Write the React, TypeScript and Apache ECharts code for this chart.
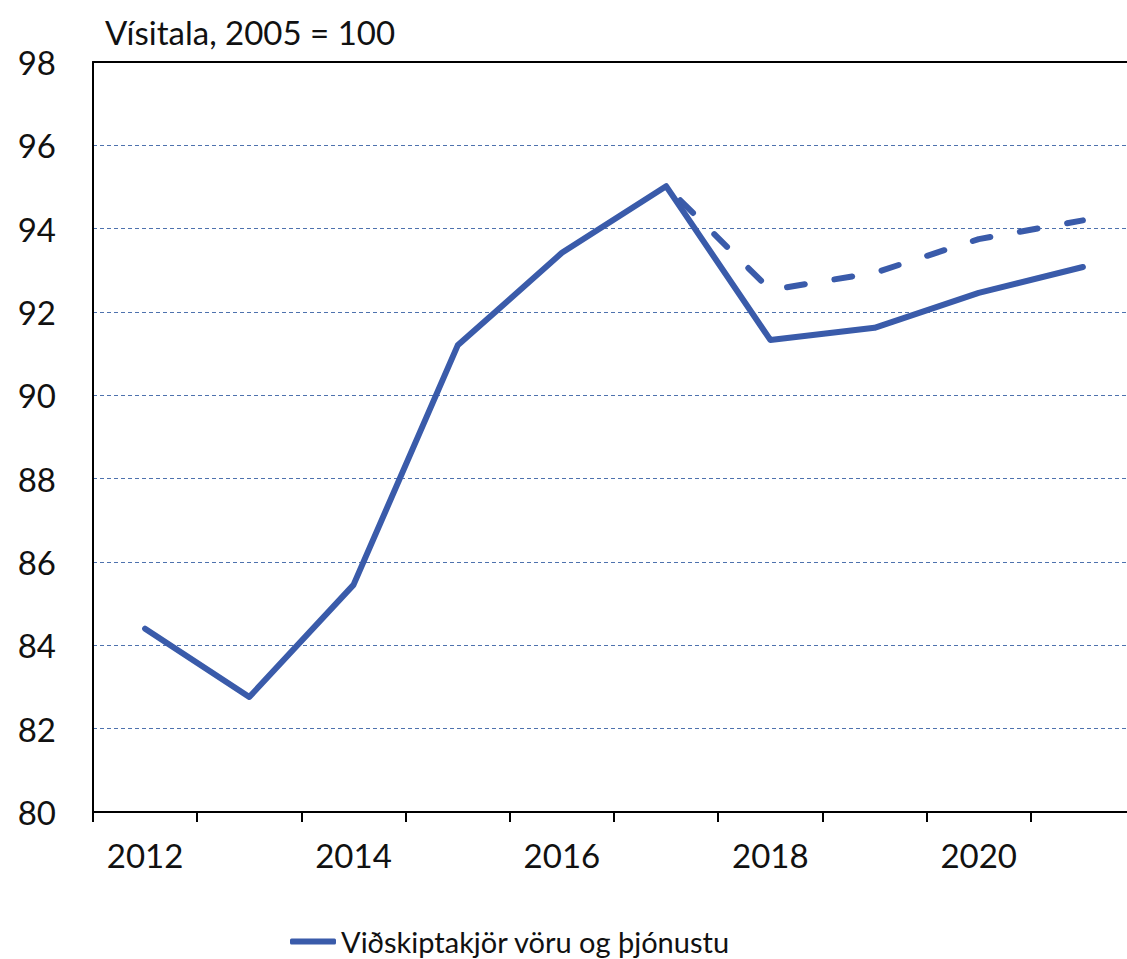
import React, { useEffect, useRef } from "react";
import * as echarts from "echarts";

const categories = ["2012", "2013", "2014", "2015", "2016", "2017", "2018", "2019", "2020", "2021"];
const termsOfTrade = [84.4, 82.76, 85.45, 91.2, 93.42, 95.02, 91.33, 91.62, 92.46, 93.08];
const forecast = [null, null, null, null, null, 95.02, 92.53, 92.94, 93.75, 94.2];
const seriesName = "Viðskiptakjör vöru og þjónustu";
const yTitle = "Vísitala, 2005 = 100";

const FONT = "Lato, 'Open Sans', sans-serif";
const BLUE = "#3A5BAA";

export default function App() {
  const ref = useRef<HTMLDivElement>(null);
  useEffect(() => {
    document.body.style.margin = "0";
    const chart = echarts.init(ref.current!, null, { renderer: "svg" });
    chart.setOption({
      animation: false,
      backgroundColor: "#fff",
      textStyle: { fontFamily: FONT },
      grid: { left: 93, top: 62, width: 1042, height: 750, containLabel: false },
      title: {
        text: yTitle,
        left: 100,
        top: 10,
        textStyle: { fontFamily: FONT, fontSize: 33, fontWeight: "normal", color: "#111" },
      },
      legend: {
        data: [seriesName],
        left: 285,
        top: 922,
        itemWidth: 46,
        itemHeight: 6,
        icon: "roundRect",
        textStyle: { fontFamily: FONT, fontSize: 29, color: "#111" },
      },
      xAxis: [
        {
          type: "category",
          data: categories,
          boundaryGap: true,
          axisLine: { lineStyle: { color: "#000", width: 2 } },
          axisTick: { show: true, interval: 0, length: 10, lineStyle: { color: "#000", width: 2 } },
          axisLabel: { interval: 1, fontFamily: FONT, fontSize: 33, color: "#111", margin: 26 },
          splitLine: { show: false },
        },
        {
          type: "category",
          data: categories,
          position: "top",
          axisLine: { show: true, lineStyle: { color: "#000", width: 2 } },
          axisTick: { show: false },
          axisLabel: { show: false },
          z: 5,
        },
      ],
      yAxis: {
        type: "value",
        min: 80,
        max: 98,
        interval: 2,
        axisLine: { show: true, lineStyle: { color: "#000", width: 2 } },
        axisTick: { show: false },
        axisLabel: { fontFamily: FONT, fontSize: 33, color: "#111", margin: 37 },
        splitLine: { show: true, lineStyle: { color: "#4E72AE", width: 1, type: [4, 3] } },
      },
      series: [
        {
          name: "Spá",
          type: "line",
          data: forecast,
          showSymbol: false,
          symbol: "none",
          connectNulls: false,
          lineStyle: { color: BLUE, width: 6, type: [18, 30], dashOffset: 28, cap: "round" },
          itemStyle: { color: BLUE },
          z: 3,
        },
        {
          name: seriesName,
          type: "line",
          data: termsOfTrade,
          showSymbol: false,
          symbol: "none",
          lineStyle: { color: BLUE, width: 6, join: "round", cap: "round" },
          itemStyle: { color: BLUE },
          z: 4,
        },
      ],
    });
    return () => chart.dispose();
  }, []);
  return (
    <div style={{ position: "fixed", left: 0, top: 0, width: 1127, height: 959, overflow: "hidden" }}>
      <div ref={ref} style={{ width: 1145, height: 959 }} />
    </div>
  );
}
